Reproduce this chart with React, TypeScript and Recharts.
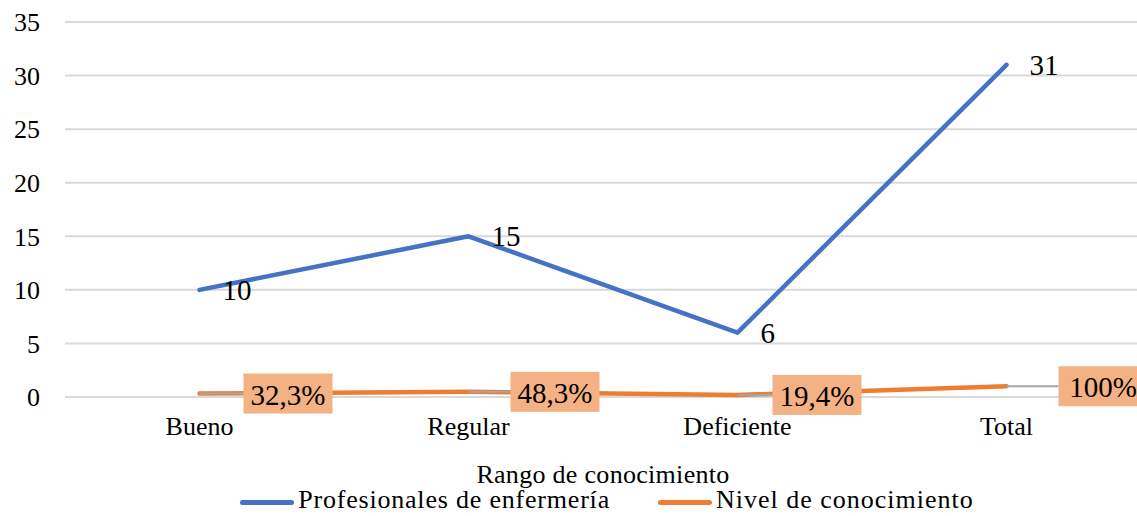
import React from 'react';
import { LineChart, Line, XAxis, YAxis, CartesianGrid, Legend, LabelList, Label } from 'recharts';

const categories = ['Bueno', 'Regular', 'Deficiente', 'Total'];
const profesionales = [10, 15, 6, 31];
const nivel = [0.323, 0.483, 0.194, 1];
const nivelLabels = ['32,3%', '48,3%', '19,4%', '100%'];
const yTicks = [0, 5, 10, 15, 20, 25, 30, 35];

const data = categories.map((c, i) => ({
  cat: c,
  prof: profesionales[i],
  nivel: nivel[i],
  nivelLabel: nivelLabels[i],
}));

const FONT = '"Liberation Serif", "Times New Roman", serif';
const BLUE = '#4472C4';
const ORANGE = '#ED7D31';
const BOX = '#F4B183';
// horizontal leader-line lengths for the percentage callouts (style, not data)
const leaderLen = [44, 42, 35, 52];

const BlueLabel = (p: any) => {
  const { x, y, value } = p;
  return (
    <text x={x + 23} y={y} dominantBaseline="central" fontFamily={FONT} fontSize={29} fill="#000">
      {value}
    </text>
  );
};

const OrangeLabel = (p: any) => {
  const { x, y, value, index } = p;
  const gap = leaderLen[index] ?? 44;
  const w = 89;
  const h = 40;
  return (
    <g>
      <line x1={x} y1={y} x2={x + gap} y2={y} stroke="#A5A5A5" strokeWidth={2} />
      <rect x={x + gap} y={y - h / 2} width={w} height={h} fill={BOX} />
      <text x={x + gap + w / 2} y={y + 1} textAnchor="middle" dominantBaseline="central" fontFamily={FONT} fontSize={29} fill="#000">
        {value}
      </text>
    </g>
  );
};

const renderLegend = () => (
  <div style={{ display: 'flex', justifyContent: 'center', alignItems: 'center', height: 28, lineHeight: '28px', fontFamily: FONT, fontSize: 26, color: '#000' }}>
    <div style={{ display: 'flex', alignItems: 'center' }}>
      <div style={{ width: 54, height: 5, background: BLUE, borderRadius: 3, marginRight: 4 }} />
      <span style={{ letterSpacing: '0.8px', position: 'relative', top: -2 }}>Profesionales de enfermería</span>
    </div>
    <div style={{ display: 'flex', alignItems: 'center', marginLeft: 48 }}>
      <div style={{ width: 54, height: 5, background: ORANGE, borderRadius: 3, marginRight: 4 }} />
      <span style={{ letterSpacing: '1px', position: 'relative', top: -2 }}>Nivel de conocimiento</span>
    </div>
  </div>
);

export default function App() {
  return (
    <div style={{ position: 'absolute', left: 0, top: 0, width: 1137, height: 516, overflow: 'hidden', background: '#fff' }}>
      <LineChart width={1145} height={516} data={data} margin={{ top: 22, right: 4, bottom: 0, left: 0 }}>
        <CartesianGrid horizontal vertical={false} stroke="#D9D9D9" strokeWidth={2} />
        <XAxis
          dataKey="cat"
          padding={{ left: 134.5, right: 134.5 }}
          axisLine={false}
          tickLine={false}
          tickSize={0}
          tickMargin={20}
          interval={0}
          height={91}
          tick={{ fill: '#000', fontSize: 26, fontFamily: FONT }}
        >
          <Label
            content={(props: any) => {
              const vb = props.viewBox || {};
              return (
                <text x={vb.x + vb.width / 2} y={vb.y + 86} textAnchor="middle" fontFamily={FONT} fontSize={26} letterSpacing={0.3} fill="#000">
                  Rango de conocimiento
                </text>
              );
            }}
          />
        </XAxis>
        <YAxis
          domain={[0, 35]}
          ticks={yTicks}
          width={65}
          axisLine={false}
          tickLine={false}
          tickSize={0}
          tickMargin={25}
          tick={{ fill: '#000', fontSize: 26, fontFamily: FONT }}
        />
        <Legend verticalAlign="bottom" height={28} content={renderLegend} wrapperStyle={{ left: 69, width: 1076 }} />
        <Line
          type="linear"
          dataKey="prof"
          name="Profesionales de enfermería"
          stroke={BLUE}
          strokeWidth={4.5}
          strokeLinecap="round"
          strokeLinejoin="round"
          dot={false}
          isAnimationActive={false}
        >
          <LabelList dataKey="prof" content={BlueLabel} />
        </Line>
        <Line
          type="linear"
          dataKey="nivel"
          name="Nivel de conocimiento"
          stroke={ORANGE}
          strokeWidth={4.5}
          strokeLinecap="round"
          strokeLinejoin="round"
          dot={false}
          isAnimationActive={false}
        >
          <LabelList dataKey="nivelLabel" content={OrangeLabel} />
        </Line>
      </LineChart>
    </div>
  );
}
